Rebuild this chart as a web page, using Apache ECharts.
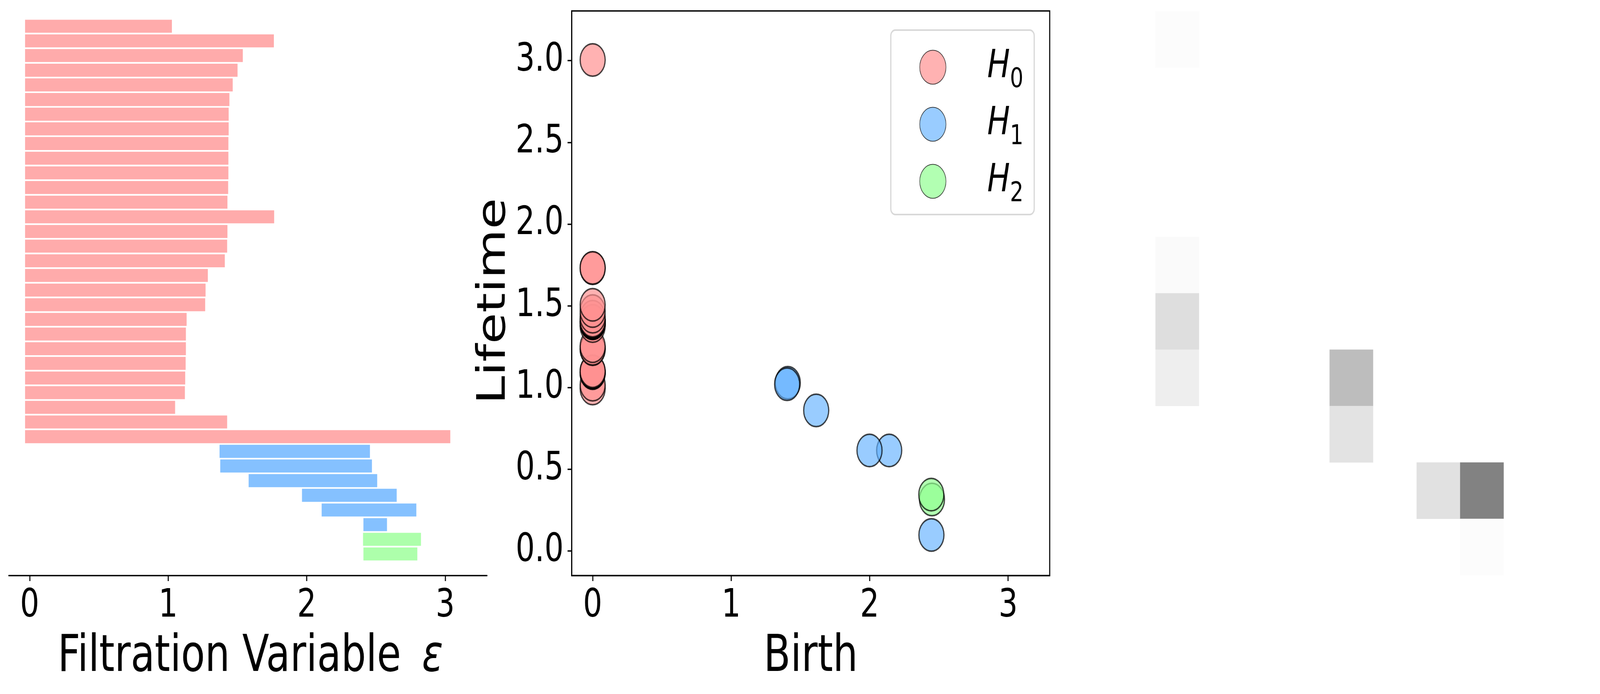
<!DOCTYPE html>
<html><head><meta charset="utf-8">
<style>html,body{margin:0;padding:0;background:#fff;overflow:hidden}#c{width:5306px;height:1776px;transform-origin:0 0}</style>
<script src="https://cdn.jsdelivr.net/npm/echarts@6/dist/echarts.min.js"></script>
</head><body><div id="c"></div>
<script>
// barcode intervals (drawn extent on the filtration axis)
const h0Start = [-0.033,-0.033,-0.033,-0.033,-0.033,-0.033,-0.033,-0.033,-0.033,-0.033,-0.033,-0.033,-0.033,-0.033,-0.033,-0.033,-0.033,-0.033,-0.033,-0.033,-0.033,-0.033,-0.033,-0.033,-0.033,-0.033,-0.033,-0.033,-0.033];
const h0End = [1.027,1.763,1.539,1.501,1.466,1.442,1.437,1.437,1.435,1.435,1.435,1.433,1.428,1.765,1.428,1.426,1.409,1.286,1.270,1.267,1.133,1.128,1.128,1.126,1.123,1.121,1.050,1.426,3.037];
const h1Start = [1.371,1.376,1.581,1.966,2.108,2.410];
const h1End = [2.457,2.471,2.509,2.650,2.792,2.580];
const h2Start = [2.407,2.410];
const h2End = [2.825,2.799];
// persistence diagram, in drawing order (later points sit in front)
const h0Life = [0.994,1.017,1.088,1.090,1.093,1.095,1.095,1.100,1.234,1.237,1.253,1.376,1.393,1.393,1.395,1.395,1.400,1.402,1.402,1.402,1.404,1.404,1.409,1.433,1.468,1.506,1.730,1.732,3.004];
const h1Birth = [2.446,2.141,1.999,1.614,1.409,1.404];
const h1Life = [0.098,0.615,0.615,0.860,1.029,1.020];
const h2Birth = [2.450,2.445];
const h2Life = [0.315,0.345];
const xTicks = [0,1,2,3];
const yTicks = [0,0.5,1,1.5,2,2.5,3];
// persistence image cells: [col, row from top, intensity]
const imgCells = [[0,0,0.024],[0,4,0.04],[0,5,0.264],[0,6,0.136],[4,6,0.528],[4,7,0.224],[6,8,0.24],[7,8,1],[7,9,0.024]];
const imgIndex = ['0','1','2','3','4','5','6','7','8','9'];

const FONT = '"DejaVu Sans"';
const barColors = ['rgb(255,171,171)','rgb(133,193,255)','rgb(173,255,171)'];
const ptColors = ['rgba(255,146,146,0.7)','rgba(98,177,255,0.65)','rgba(146,255,146,0.7)'];
const edge = 'rgba(0,0,0,0.72)';

let rowNo = 0;
function barSeries(name, starts, ends, color){
  const data = starts.map((s,i)=>[s, ends[i], rowNo++]);
  return {type:'custom', name, xAxisIndex:0, yAxisIndex:0, clip:false, encode:{x:[0,1], y:2}, data,
    renderItem(params, api){
      const a = api.coord([api.value(0), api.value(2)]);
      const b = api.coord([api.value(1), api.value(2)]);
      const h = api.size([0,1])[1]*0.888;
      return {type:'rect', shape:{x:a[0], y:a[1]-h/2, width:b[0]-a[0], height:h}, style:{fill:color}};
    }};
}
function ptSeries(name, xs, ys, color){
  return {type:'scatter', name, xAxisIndex:1, yAxisIndex:1, symbol:'circle', symbolSize:83, clip:false,
    itemStyle:{color, borderColor:edge, borderWidth:4, opacity:1},
    emphasis:{disabled:true},
    data: ys.map((y,i)=>[xs[i], y])};
}
const numAxis = (extra)=>Object.assign({
  type:'value', splitLine:{show:false},
  axisLine:{show:true, onZero:false, lineStyle:{color:'#000', width:3.5}},
  axisTick:{show:true, length:14, lineStyle:{color:'#000', width:3.5}},
  axisLabel:{fontFamily:FONT, fontSize:100, color:'#000'},
  nameLocation:'middle',
  nameTextStyle:{fontFamily:FONT, fontSize:130, color:'#000'}
}, extra);

const option = {
  animation:false, backgroundColor:'#fff',
  grid:[
    {left:29, top:28, width:1586, height:1445},
    {left:1896, top:28, width:1585, height:1445, show:true, borderColor:'#000', borderWidth:3.5, backgroundColor:'transparent'},
    {left:3832, top:29, width:1443, height:1443}
  ],
  xAxis:[
    numAxis({gridIndex:0, min:-0.151, max:3.302, name:'Filtration Variable {e|ε}', nameGap:145,
      axisTick:{show:true, length:14, customValues:xTicks, lineStyle:{color:'#000', width:3.5}},
      axisLabel:{fontFamily:FONT, fontSize:100, color:'#000', margin:29, customValues:xTicks, formatter:v=>String(v)},
      nameTextStyle:{fontFamily:FONT, fontSize:130, color:'#000', padding:[0,0,0,17], rich:{e:{fontFamily:FONT, fontStyle:'italic', fontSize:130, color:'#000', padding:[0,0,0,28]}}}}),
    numAxis({gridIndex:1, min:-0.151, max:3.30, name:'Birth', nameGap:145,
      axisTick:{show:true, length:14, customValues:xTicks, lineStyle:{color:'#000', width:3.5}},
      axisLabel:{fontFamily:FONT, fontSize:100, color:'#000', margin:29, customValues:xTicks, formatter:v=>String(v)}}),
    {type:'category', gridIndex:2, data:imgIndex, show:false}
  ],
  yAxis:[
    {type:'value', gridIndex:0, inverse:true, min:-1.045, max:37.478, show:false},
    numAxis({gridIndex:1, min:-0.1506, max:3.304, name:'Lifetime', nameGap:191,
      axisTick:{show:true, length:14, customValues:yTicks, lineStyle:{color:'#000', width:3.5}},
      axisLabel:{fontFamily:FONT, fontSize:100, color:'#000', margin:27, customValues:yTicks, formatter:v=>v.toFixed(1)},
      nameTextStyle:{fontFamily:FONT, fontSize:130, color:'#000', padding:[0,40,0,0]}}),
    {type:'category', gridIndex:2, data:imgIndex, inverse:true, show:false}
  ],
  visualMap:{show:false, min:0, max:1, seriesIndex:6, inRange:{color:['#ffffff','#828282']}},
  legend:{
    show:true, orient:'vertical', left:2954, top:77,
    data:['H0','H1','H2'], icon:'circle', itemWidth:87, itemHeight:87, itemGap:28, symbolKeepAspect:true,
    selectedMode:false, backgroundColor:'#fff', borderColor:'#d8d8d8', borderWidth:4, borderRadius:15,
    padding:[45,36,17,95], align:'left',
    formatter:n=>'{i|H}{s|'+n.slice(1)+'}',
    textStyle:{padding:[0,0,0,132], rich:{
      i:{fontFamily:FONT, fontStyle:'italic', fontSize:100, color:'#000'},
      s:{fontFamily:FONT, fontSize:70, color:'#000', padding:[66,0,0,0]}
    }}
  },
  series:[
    barSeries('H0 bars', h0Start, h0End, barColors[0]),
    barSeries('H1 bars', h1Start, h1End, barColors[1]),
    barSeries('H2 bars', h2Start, h2End, barColors[2]),
    ptSeries('H0', h0Life.map(()=>0), h0Life, ptColors[0]),
    ptSeries('H1', h1Birth, h1Life, ptColors[1]),
    ptSeries('H2', h2Birth, h2Life, ptColors[2]),
    {type:'heatmap', xAxisIndex:2, yAxisIndex:2, data:imgCells, itemStyle:{borderWidth:0}, emphasis:{disabled:true}}
  ]
};
const box = document.getElementById('c');
echarts.init(box).setOption(option);
// The real window may be narrower than the 5306 px layout: fit the full width into it.
const fit = Math.min(1, window.innerWidth/5306);
if (fit < 1) box.style.transform = 'scaleX(' + fit + ')';
</script></body></html>
